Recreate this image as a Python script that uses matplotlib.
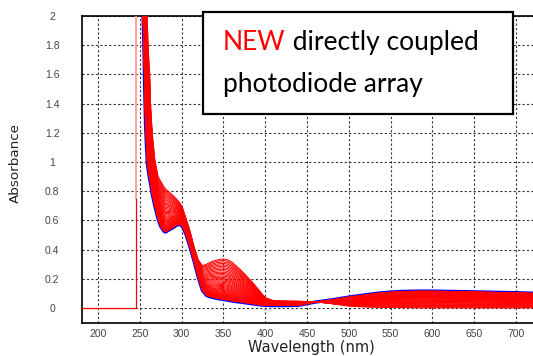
import numpy as np
import matplotlib
matplotlib.use("Agg")
import matplotlib.pyplot as plt
from matplotlib.patches import Rectangle
from matplotlib.text import Annotation

wavelength = [252, 254, 255, 256, 257, 259, 260, 262, 263, 265, 268, 272, 275, 279,
              281, 285, 290, 295, 298, 301, 305, 310, 315, 320, 325, 330, 335, 340,
              345, 350, 355, 360, 365, 370, 375, 380, 385, 390, 395, 400, 410, 420,
              440, 460, 480, 500, 520, 540, 560, 580, 600, 650, 700, 725]

# first scan (top of the band in the UV)
abs_first = [2.6, 2.5, 2.4, 2.3, 2.2, 2.0, 1.8, 1.6, 1.4, 1.2, 1.02, 0.90, 0.87, 0.83,
             0.815, 0.795, 0.77, 0.74, 0.72, 0.69, 0.62, 0.53, 0.42, 0.33, 0.29, 0.30, 0.315, 0.325,
             0.332, 0.335, 0.33, 0.315, 0.29, 0.265, 0.235, 0.205, 0.175, 0.14, 0.105, 0.07, 0.05, 0.048,
             0.046, 0.042, 0.028, 0.012, 0.006, 0.003, 0.002, 0.0, 0.0, 0.0, 0.0, 0.0]

# last scan (blue trace)
abs_last = [2.3, 2.0, 1.8, 1.5, 1.25, 1.0, 0.95, 0.88, 0.85, 0.78, 0.70, 0.61, 0.56, 0.525,
            0.52, 0.535, 0.55, 0.57, 0.57, 0.56, 0.51, 0.42, 0.32, 0.21, 0.12, 0.085, 0.075, 0.068,
            0.062, 0.058, 0.053, 0.048, 0.043, 0.04, 0.036, 0.032, 0.028, 0.024, 0.02, 0.018, 0.016, 0.016,
            0.018, 0.04, 0.055, 0.074, 0.09, 0.104, 0.112, 0.115, 0.115, 0.11, 0.104, 0.10]

# absorbance at 350 nm of each red scan
peak_350 = [0.335, 0.325, 0.315, 0.305, 0.295, 0.285, 0.275, 0.265, 0.255, 0.245,
            0.236, 0.227, 0.218, 0.209, 0.200, 0.192, 0.184, 0.176, 0.168, 0.160,
            0.153, 0.146, 0.139, 0.132, 0.126, 0.120, 0.114, 0.108, 0.103, 0.098,
            0.093, 0.089, 0.085, 0.081, 0.078, 0.075, 0.072, 0.069, 0.067, 0.065,
            0.063, 0.061, 0.060, 0.059]

# baseline / cut-off trace on the left
cutoff_x = [181, 245, 245]
cutoff_y = [0, 0, 0.75]
cutoff_top_x = [245, 245]
cutoff_top_y = [0.75, 2.0]

x_ticks = [200, 250, 300, 350, 400, 450, 500, 550, 600, 650, 700]
y_ticks = [0, 0.2, 0.4, 0.6, 0.8, 1.0, 1.2, 1.4, 1.6, 1.8, 2.0]
y_tick_labels = ['0', '0.2', '0.4', '0.6', '0.8', '1', '1.2', '1.4', '1.6', '1.8', '2']

fig = plt.figure(figsize=(5.33, 3.56), dpi=100)
ax = fig.add_axes([82 / 533, 1 - 322.5 / 356, 455 / 533, 306.5 / 356])

wl = np.array(wavelength)
first = np.array(abs_first)
last = np.array(abs_last)
i350 = wavelength.index(350)

# blue final scan underneath, red scans on top so only its edge shows
ax.plot(wl, last, color='#0000ff', lw=2.4, zorder=3)
for p in peak_350:
    w = (p - last[i350]) / (first[i350] - last[i350])
    ax.plot(wl, last + w * (first - last), color='#ff0000', lw=0.7, zorder=4)

ax.plot(cutoff_x, cutoff_y, color='#ff0000', lw=0.9, zorder=3)
ax.plot(cutoff_top_x, cutoff_top_y, color='#ff9999', lw=1.3, zorder=3)

ax.set_xlim(181, 725)
ax.set_ylim(-0.1, 2.0)
ax.set_xticks(x_ticks)
ax.set_yticks(y_ticks)
ax.set_yticklabels(y_tick_labels)
ax.grid(True, color='#333333', lw=0.8, linestyle=(0, (2, 2)))
ax.set_axisbelow(True)
for s in ['left', 'bottom', 'top']:
    ax.spines[s].set_linewidth(1.2)
ax.spines['right'].set_visible(False)
ax.tick_params(axis='both', length=0, labelsize=7.5, labelcolor='#444444')
ax.tick_params(axis='x', pad=5)
ax.tick_params(axis='y', pad=21.5)
for lab in ax.get_yticklabels() + ax.get_xticklabels():
    lab.set_family('Liberation Sans')
for lab in ax.get_yticklabels():
    lab.set_ha('center')

fig.text(15 / 533, 1 - 163 / 356, 'Absorbance', rotation=90, ha='center', va='center',
         fontsize=9.7, color='#222222')
fig.text(311 / 533, 1 - 352 / 356, 'Wavelength (nm)', ha='center', va='baseline',
         fontsize=10.5, color='#222222')

# annotation box
box = Rectangle((203 / 533, 1 - 114 / 356), 310 / 533, 102 / 356, transform=fig.transFigure,
                facecolor='white', edgecolor='black', lw=1.6, zorder=10)
fig.add_artist(box)
t1 = fig.text(223 / 533, 1 - 50 / 356, 'NEW', color='#ff0000', fontsize=19,
              family='Lato', va='baseline', zorder=11)
t2 = Annotation(' directly coupled', xy=(1, 0), xycoords=t1, va='bottom', ha='left',
                fontsize=19, family='Lato', color='black', zorder=11)
fig.add_artist(t2)
fig.text(223 / 533, 1 - 92 / 356, 'photodiode array', color='black', fontsize=19,
         family='Lato', va='baseline', zorder=11)

fig.savefig('out.png', dpi=100)
